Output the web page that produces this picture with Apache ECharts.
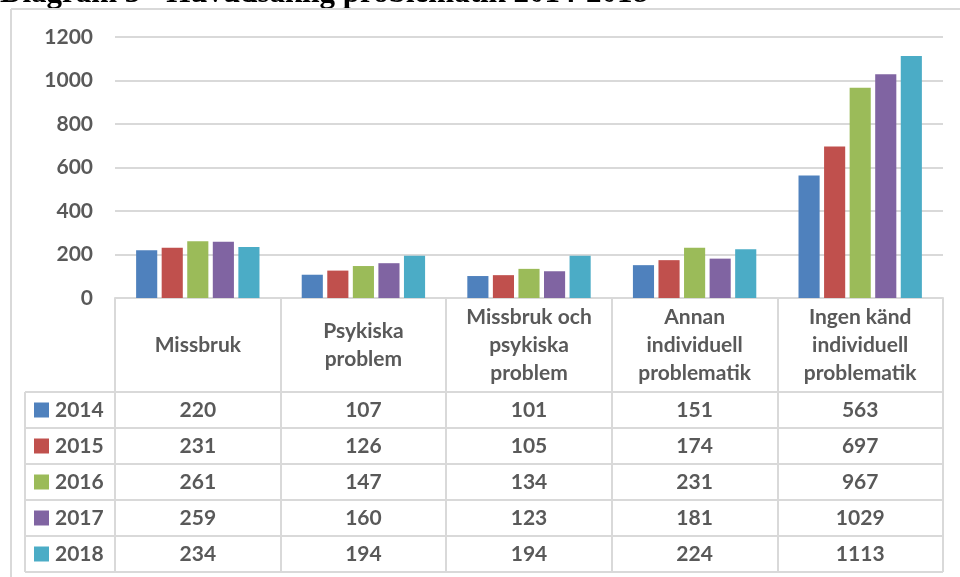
<!DOCTYPE html>
<html>
<head>
<meta charset="utf-8">
<script src="https://cdn.jsdelivr.net/npm/echarts@6/dist/echarts.min.js"></script>
<style>
html,body{margin:0;padding:0;background:#fff;}
#chart{width:960px;height:577px;}
</style>
</head>
<body>
<div id="chart"></div>
<script>
var titleText = 'Diagram 3 - Huvudsaklig problematik 2014-2018';
var categories = ['Missbruk', 'Psykiska\nproblem', 'Missbruk och\npsykiska\nproblem', 'Annan\nindividuell\nproblematik', 'Ingen känd\nindividuell\nproblematik'];
var years = ['2014', '2015', '2016', '2017', '2018'];
var v2014 = [220, 107, 101, 151, 563];
var v2015 = [231, 126, 105, 174, 697];
var v2016 = [261, 147, 134, 231, 967];
var v2017 = [259, 160, 123, 181, 1029];
var v2018 = [234, 194, 194, 224, 1113];
var yTicks = [0, 200, 400, 600, 800, 1000, 1200];

var seriesValues = [v2014, v2015, v2016, v2017, v2018];
var colors = ['#4F81BD', '#C0504D', '#9BBB59', '#8064A2', '#4BACC6'];
var txt = '#595959';
var lineC = '#d9d9d9';
var FONT = 'Lato';

var chart = echarts.init(document.getElementById('chart'), null, {renderer: 'canvas'});

var gridTop = 37, gridBottomY = 298, gridLeft = 115, gridRight = 943;
var headerBottom = 392;
var rowH = 36;
var tableLeft = 25;

var option = {
  animation: false,
  color: colors,
  grid: {left: gridLeft, right: 960 - gridRight, top: gridTop, bottom: 577 - gridBottomY, containLabel: false},
  xAxis: {
    type: 'category',
    data: categories,
    axisLine: {show: true, lineStyle: {color: lineC, width: 2}},
    axisTick: {show: true, length: headerBottom + rowH * 5 - gridBottomY, lineStyle: {color: lineC, width: 2}},
    axisLabel: {
      interval: 0,
      margin: (headerBottom - gridBottomY) / 2,
      verticalAlign: 'middle',
      color: txt, fontFamily: FONT, fontWeight: 'bold', fontSize: 21, lineHeight: 28,
      align: 'center'
    }
  },
  yAxis: {
    type: 'value',
    min: yTicks[0], max: yTicks[yTicks.length - 1], interval: yTicks[1] - yTicks[0],
    axisLine: {show: false}, axisTick: {show: false},
    splitLine: {lineStyle: {color: lineC, width: 2}},
    axisLabel: {color: txt, fontFamily: FONT, fontWeight: 'bold', fontSize: 21, margin: 22,
      formatter: function (v) { return String(v); }}
  },
  series: years.map(function (y, i) {
    return {
      name: y, type: 'bar', data: seriesValues[i],
      barGap: '21%', barCategoryGap: '25.5%',
      itemStyle: {color: colors[i]}
    };
  })
};
chart.setOption(option);

// Build title, frame and data table
var g = [];
g.push({type: 'text', left: 0, top: -22, silent: true,
  style: {text: titleText, font: 'bold 31px "Liberation Serif", "Times New Roman", serif', fill: '#000'}});
// outer frame
g.push({type: 'line', shape: {x1: 11, y1: 9, x2: 960, y2: 9}, style: {stroke: lineC, lineWidth: 2}});
g.push({type: 'line', shape: {x1: 11, y1: 9, x2: 11, y2: 577}, style: {stroke: lineC, lineWidth: 2}});
// table horizontal lines
for (var r = 0; r <= years.length; r++) {
  var yy = headerBottom + r * rowH;
  g.push({type: 'line', shape: {x1: tableLeft, y1: yy, x2: gridRight, y2: yy}, style: {stroke: lineC, lineWidth: 2}});
}
g.push({type: 'line', shape: {x1: tableLeft, y1: headerBottom, x2: tableLeft, y2: headerBottom + rowH * years.length}, style: {stroke: lineC, lineWidth: 2}});
// rows
years.forEach(function (y, i) {
  var cy = headerBottom + i * rowH + rowH / 2;
  g.push({type: 'rect', shape: {x: 34, y: cy - 7.5, width: 15, height: 15}, style: {fill: colors[i]}});
  g.push({type: 'text', x: 55, y: cy, style: {text: y, font: 'bold 21px ' + FONT, fill: txt, verticalAlign: 'middle', align: 'left'}});
  seriesValues[i].forEach(function (v, c) {
    var cx = chart.convertToPixel({xAxisIndex: 0}, c);
    g.push({type: 'text', x: cx, y: cy, style: {text: String(v), font: 'bold 21px ' + FONT, fill: txt, verticalAlign: 'middle', align: 'center'}});
  });
});
chart.setOption({graphic: {elements: g}});
</script>
</body>
</html>
